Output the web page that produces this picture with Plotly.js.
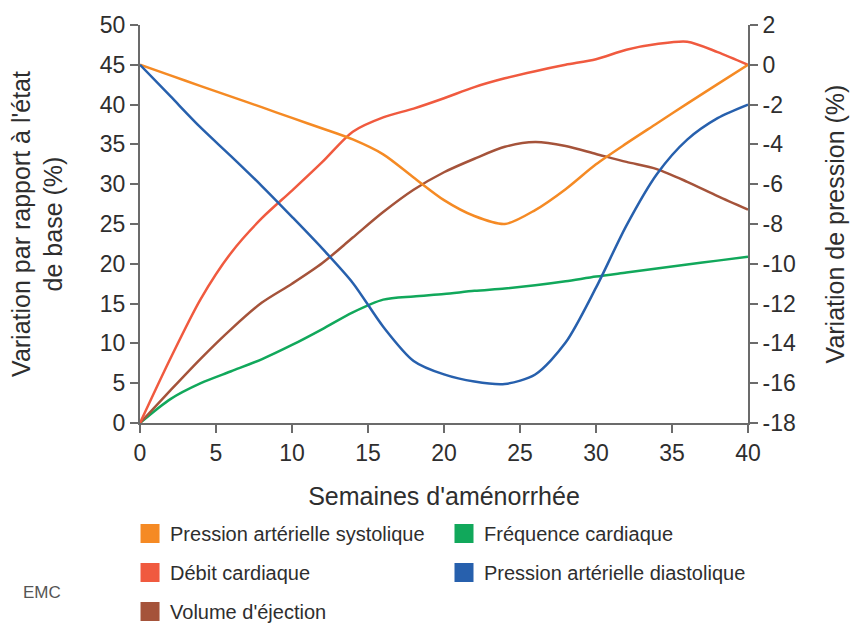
<!DOCTYPE html>
<html>
<head>
<meta charset="utf-8">
<script src="https://cdn.plot.ly/plotly-3.0.1.min.js"></script>
<style>
  html, body { margin: 0; padding: 0; background: #fff; }
  #chart { width: 851px; height: 624px; }
</style>
</head>
<body>
<div id="chart"></div>
<script>
// Semaines d'aménorrhée
const weeks = [0, 2, 4, 6, 8, 10, 12, 14, 16, 18, 20, 22, 24, 26, 28, 30, 32, 34, 36, 38, 40];

// Left axis: Variation par rapport à l'état de base (%)
const debitCardiaque     = [0, 8.1, 15.6, 21.4, 25.7, 29.2, 32.8, 36.6, 38.4, 39.5, 40.8, 42.2, 43.3, 44.2, 45.0, 45.7, 46.9, 47.6, 47.9, 46.6, 45.0];
const volumeEjection     = [0, 4.1, 8.1, 11.8, 15.1, 17.5, 20.1, 23.3, 26.5, 29.3, 31.5, 33.2, 34.7, 35.3, 34.8, 33.8, 32.8, 31.9, 30.3, 28.5, 26.8];
const frequenceCardiaque = [0, 3.0, 5.0, 6.5, 8.0, 9.8, 11.8, 13.9, 15.5, 15.9, 16.2, 16.6, 16.9, 17.3, 17.8, 18.4, 18.9, 19.4, 19.9, 20.4, 20.9];

// Right axis: Variation de pression (%)
const paSystolique  = [0, -0.53, -1.07, -1.6, -2.13, -2.67, -3.2, -3.75, -4.5, -5.66, -6.8, -7.6, -8.0, -7.3, -6.25, -5.0, -3.95, -2.95, -1.95, -0.97, 0];
const paDiastolique = [0, -1.58, -3.16, -4.6, -6.08, -7.64, -9.24, -10.96, -13.16, -14.88, -15.56, -15.92, -16.04, -15.56, -13.96, -11.2, -8.08, -5.5, -3.76, -2.68, -2.0];

// Tick labels
const weekTicks = [0, 5, 10, 15, 20, 25, 30, 35, 40];
const baseTicks = [0, 5, 10, 15, 20, 25, 30, 35, 40, 45, 50];
const pressureTicks = [-18, -16, -14, -12, -10, -8, -6, -4, -2, 0, 2];
const pressureTickText = ["-18", "-16", "-14", "-12", "-10", "-8", "-6", "-4", "-2", "0", "2"];

const names = {
  sys: "Pression artérielle systolique",
  fc: "Fréquence cardiaque",
  dc: "Débit cardiaque",
  dia: "Pression artérielle diastolique",
  ve: "Volume d'éjection"
};
const colors = {
  sys: "#f58a24",
  fc: "#11a85b",
  dc: "#f05a3f",
  dia: "#2760ad",
  ve: "#a5533a"
};

function lineTrace(y, key, yaxis) {
  return {
    type: "scatter", mode: "lines", x: weeks, y: y, yaxis: yaxis,
    name: names[key], showlegend: false, hoverinfo: "skip",
    line: { color: colors[key], width: 2.5, shape: "spline", smoothing: 0.8 }
  };
}
function legendTrace(key, legend) {
  return {
    type: "scatter", mode: "markers", x: [null], y: [null],
    name: names[key], legend: legend, legendgroup: key, showlegend: true,
    marker: { symbol: "square", size: 16, color: colors[key], line: { color: colors[key], width: 3 } }
  };
}

const data = [
  lineTrace(frequenceCardiaque, "fc", "y"),
  lineTrace(volumeEjection, "ve", "y"),
  lineTrace(debitCardiaque, "dc", "y"),
  lineTrace(paSystolique, "sys", "y2"),
  lineTrace(paDiastolique, "dia", "y2"),
  legendTrace("sys", "legend"),
  legendTrace("dc", "legend"),
  legendTrace("ve", "legend"),
  legendTrace("fc", "legend2"),
  legendTrace("dia", "legend2")
];

const axisColor = "#6b6b6b";
const textColor = "#2e2e2e";
const fontFam = "Liberation Sans, Arial, sans-serif";

const common = {
  showgrid: false, zeroline: false, showline: true,
  linecolor: axisColor, linewidth: 2,
  ticks: "outside", ticklen: 8, tickwidth: 2, tickcolor: axisColor,
  tickfont: { family: fontFam, size: 23, color: textColor },
  fixedrange: true
};

const legendCommon = {
  orientation: "v", yanchor: "top", xanchor: "left",
  font: { family: fontFam, size: 20, color: textColor },
  tracegroupgap: 10, itemwidth: 30, bgcolor: "rgba(0,0,0,0)",
  traceorder: "grouped"
};

const layout = {
  width: 851, height: 624,
  margin: { l: 140, r: 103, t: 25, b: 201, autoexpand: false },
  paper_bgcolor: "#ffffff", plot_bgcolor: "#ffffff",
  font: { family: fontFam, color: textColor },
  showlegend: true,
  xaxis: Object.assign({}, common, {
    range: [0, 40], tickvals: weekTicks,
    title: { text: "Semaines d'aménorrhée", font: { family: fontFam, size: 25, color: textColor }, standoff: 23 }
  }),
  yaxis: Object.assign({}, common, {
    range: [0, 50], tickvals: baseTicks,
    title: { text: "Variation par rapport à l'état<br>de base (%)", font: { family: fontFam, size: 25, color: textColor }, standoff: 30 }
  }),
  yaxis2: Object.assign({}, common, {
    range: [-18, 2], tickvals: pressureTicks, ticktext: pressureTickText,
    overlaying: "y", side: "right", anchor: "x",
    title: { text: "Variation de pression (%)", font: { family: fontFam, size: 25, color: textColor }, standoff: 31 }
  }),
  legend: Object.assign({}, legendCommon, { x: -0.0164, y: -0.2286 }),
  legend2: Object.assign({}, legendCommon, { x: 0.5, y: -0.2286 }),
  annotations: [{
    text: "EMC", xref: "paper", yref: "paper", x: -0.161, y: -0.425,
    xanchor: "center", yanchor: "middle", showarrow: false,
    font: { family: "Liberation Sans Narrow, Liberation Sans, sans-serif", size: 17, color: "#555555" }
  }]
};

Plotly.newPlot("chart", data, layout, { staticPlot: true, displayModeBar: false });
</script>
</body>
</html>
